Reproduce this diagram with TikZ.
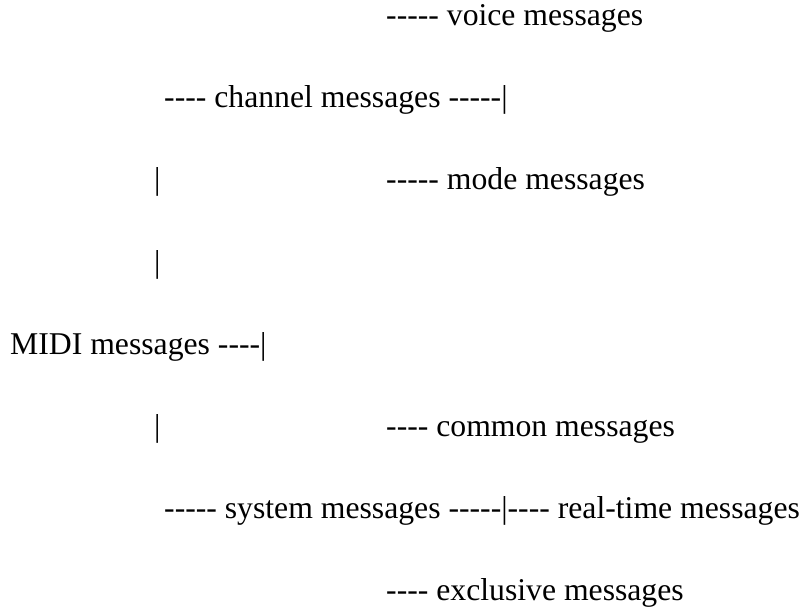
\documentclass[tikz,border=0pt]{standalone}
\usepackage{fontspec}
\setmainfont{Liberation Serif}
\newfontfamily\msgfont[Ligatures=TeXOff]{Liberation Serif}
\tikzset{>=latex}
\colorlet{txtcol}{black}
\tikzstyle{msg}=[anchor=base west,inner sep=0pt,txtcol,font=\msgfont\fontsize{31.7bp}{31.7bp}\selectfont]
\def\dy{82} % line spacing

\begin{document}
\begin{tikzpicture}[x=1bp,y=-1bp]
  \useasboundingbox (0,0) rectangle (805,607);
  \def\xa{10}  % root
  \def\xb{154} % bars
  \def\xc{164} % branches
  \def\xd{386} % leaves
  \node[msg] (voice)   at (\xd,26)        {----- voice messages};
  \node[msg] (channel) at (\xc,26+\dy)    {---- channel messages -----|};
  \node[msg] (barA)    at (\xb,26+2*\dy)  {|};
  \node[msg] (mode)    at (\xd,26+2*\dy)  {----- mode messages};
  \node[msg] (barB)    at (\xb,26+3*\dy)  {|};
  \node[msg] (midi)    at (\xa,26+4*\dy)  {MIDI messages ----|};
  \node[msg] (barC)    at (\xb,26+5*\dy)  {|};
  \node[msg] (common)  at (\xd,26+5*\dy)  {---- common messages};
  \node[msg] (system)  at (\xc,26+6*\dy)  {----- system messages -----|---- real-time messages};
  \node[msg] (excl)    at (\xd,26+7*\dy)  {---- exclusive messages};
\end{tikzpicture}
\end{document}
